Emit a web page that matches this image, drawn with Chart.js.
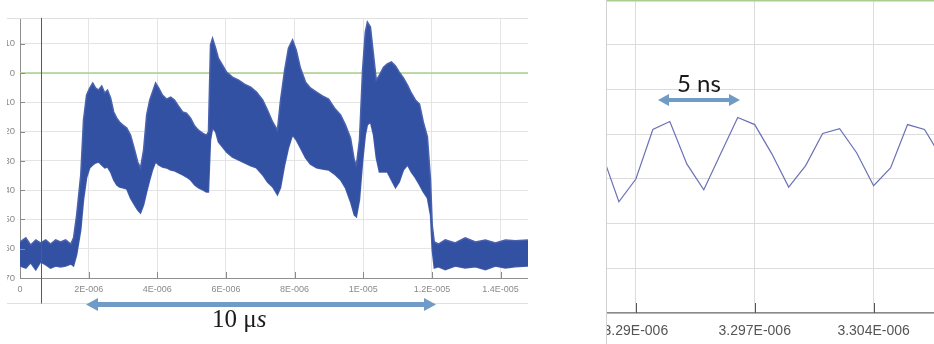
<!DOCTYPE html>
<html>
<head>
<meta charset="utf-8">
<script src="https://cdn.jsdelivr.net/npm/chart.js"></script>
<style>
body{margin:0;width:934px;height:344px;background:#fff;position:relative;overflow:hidden;}
#leftBox{position:absolute;left:7px;top:18px;width:521px;height:287px;overflow:hidden;}
#leftCanvas{position:absolute;left:-27px;top:0;}
#rightEdge{position:absolute;left:606px;top:0;width:1px;height:344px;background:#d2d2d2;}
#rightBox{position:absolute;left:607px;top:0;width:327px;height:344px;overflow:hidden;}
#rightCanvas{position:absolute;left:-47px;top:0;}
#arrows{position:absolute;left:0;top:0;}
.note{position:absolute;white-space:nowrap;color:#1a1a1a;}
#usLabel{left:212px;top:306px;font:25px/25px "Liberation Serif","DejaVu Serif",serif;}
#nsLabel{left:677px;top:71px;font:24px/24px Lato,"Open Sans",sans-serif;}
</style>
</head>
<body>

<div id="leftBox"><canvas id="leftCanvas" width="548" height="287"></canvas></div>
<div id="rightEdge"></div>
<div id="rightBox"><canvas id="rightCanvas" width="390" height="344"></canvas></div>

<svg id="arrows" width="934" height="344">
<g fill="#6f9bc6">
<rect x="96" y="302" width="330" height="5"/>
<polygon points="86,304.5 98,298 98,311"/>
<polygon points="436,304.5 424,298 424,311"/>
<rect x="666" y="98" width="66" height="4"/>
<polygon points="658,100 669,94 669,106"/>
<polygon points="740,100 729,94 729,106"/>
</g>
</svg>
<div class="note" id="usLabel">10 μ<i>s</i></div>
<div class="note" id="nsLabel">5 ns</div>

<script>

// long capture, time in microseconds
const burstTime = [0, 0.17, 0.31, 0.46, 0.60, 0.75, 0.89, 1.04, 1.18, 1.33, 1.48, 1.56,
1.65, 1.77, 1.85, 1.94, 2.03, 2.12, 2.20, 2.29, 2.38, 2.47,
2.55, 2.64, 2.73, 2.82, 2.90, 2.99, 3.11, 3.22, 3.34, 3.43,
3.51, 3.60, 3.69, 3.78, 3.86, 3.95, 4.04, 4.15, 4.27, 4.39,
4.50, 4.62, 4.74, 4.85, 4.97, 5.09, 5.20, 5.32, 5.43, 5.49,
5.55, 5.61, 5.70, 5.78, 5.90, 6.02, 6.19, 6.37, 6.54, 6.72,
6.89, 7.07, 7.21, 7.36, 7.50, 7.59, 7.71, 7.82, 7.94, 8.05,
8.17, 8.32, 8.46, 8.64, 8.81, 8.99, 9.16, 9.34, 9.48, 9.63,
9.74, 9.80, 9.89, 9.98, 10.06, 10.12, 10.21, 10.30, 10.38, 10.47,
10.59, 10.70, 10.82, 10.94, 11.05, 11.17, 11.29, 11.40, 11.52, 11.64,
11.75, 11.87, 11.96, 12.01, 12.07, 12.19, 12.39, 12.68, 12.97, 13.27,
13.56, 13.85, 14.14, 14.43, 14.8];

// top edge of the noise band
const burstUpper = [-57.7, -56.3, -58.7, -57.0, -58.0, -57.0, -58.4, -57.0, -57.7, -57.0, -58.4, -56.3,
-48.5, -34.8, -16.0, -7.5, -5.1, -3.4, -5.1, -5.8, -4.4, -6.8,
-5.8, -8.5, -13.3, -15.4, -16.7, -17.7, -18.8, -21.2, -26.3, -30.4,
-32.4, -26.3, -14.3, -9.2, -6.5, -3.4, -5.1, -7.5, -8.9, -8.2,
-9.2, -11.3, -13.3, -13.7, -15.4, -18.1, -19.5, -20.5, -21.2, -20.1,
9.6, 11.9, 8.5, 5.1, 2.7, 0.3, -1.4, -2.4, -3.8, -4.8,
-6.5, -9.2, -12.6, -16.7, -19.5, -9.2, 1.0, 8.5, 11.3, 7.8,
1.7, -3.1, -5.1, -6.5, -7.8, -8.9, -11.9, -14.3, -17.7, -22.2,
-29.7, -31.4, -22.9, 1.0, 14.0, 17.4, 15.7, 6.1, -2.4, -0.7,
2.0, 3.1, 3.8, 2.4, 0.3, -1.7, -4.1, -6.8, -9.2, -10.6,
-16.7, -21.8, -36.5, -51.9, -57.7, -58.4, -57.0, -58.0, -56.3, -57.7,
-57.0, -58.0, -57.0, -57.3, -57.0];

// bottom edge of the noise band
const burstLower = [-65.9, -66.6, -64.8, -67.2, -64.5, -65.5, -66.6, -65.9, -66.2, -65.9, -65.2, -65.9,
-62.1, -53.6, -43.3, -35.8, -32.4, -31.4, -30.7, -30.4, -31.4, -32.4,
-32.1, -33.8, -36.5, -38.2, -38.9, -39.2, -39.6, -42.7, -45.1, -46.8,
-47.8, -45.1, -40.6, -36.5, -33.1, -30.4, -31.4, -32.1, -32.4, -33.1,
-33.4, -34.1, -34.8, -35.5, -36.5, -38.2, -39.2, -39.9, -40.6, -40.6,
-22.9, -18.8, -20.1, -23.5, -25.3, -27.0, -28.7, -29.7, -30.7, -31.7,
-32.4, -34.8, -37.2, -38.9, -41.6, -39.2, -31.4, -25.6, -21.2, -22.9,
-25.6, -29.0, -31.1, -32.4, -32.8, -33.1, -34.5, -36.5, -39.2, -44.0,
-48.5, -49.1, -43.3, -30.4, -21.2, -17.7, -16.7, -21.2, -29.0, -33.8,
-33.8, -33.8, -36.5, -39.2, -37.2, -33.1, -31.4, -33.8, -35.8, -38.2,
-40.6, -42.7, -48.5, -60.4, -66.6, -66.2, -67.2, -65.9, -66.6, -66.2,
-67.2, -65.9, -66.6, -66.2, -65.9];

const longTickValues = [0, 2, 4, 6, 8, 10, 12, 14];
const longTickLabels = ["0", "2E-006", "4E-006", "6E-006", "8E-006", "1E-005", "1.2E-005", "1.4E-005"];
const cursorTime = 0.6;
const thresholdLevel = 0;

// zoomed capture, time in nanoseconds
const waveTime = [3288, 3289, 3290, 3291, 3292, 3293, 3294, 3295, 3296, 3297, 3298,
3299, 3300, 3301, 3302, 3303, 3304, 3305, 3306, 3307, 3308];
const waveLevel = [-34.3, -45.1, -40.0, -28.9, -27.1, -36.6, -42.4, -34.3, -26.2, -27.8, -34.3,
-41.8, -37.0, -29.8, -28.7, -34.1, -41.5, -37.5, -27.8, -28.9, -35.2];

const zoomTickValues = [3290, 3297, 3304];
const zoomTickLabels = ["3.29E-006", "3.297E-006", "3.304E-006"];


Chart.defaults.font.family = "'Liberation Sans', Arial, sans-serif";
Chart.defaults.animation = false;

function points(xs, ys){
return xs.map((x, i) => ({x: x, y: ys[i]}));
}

function tickLabel(values, labels){
return function(v){
const i = values.indexOf(Math.round(v * 1000) / 1000);
return i >= 0 ? labels[i] : "";
};
}

const insideTicks = {
id: "insideTicks",
afterDraw(chart, args, opts){
const ctx = chart.ctx;
const area = chart.chartArea;
const xs = chart.scales.x;
ctx.save();
ctx.strokeStyle = opts.color;
ctx.lineWidth = 1;
ctx.beginPath();
xs.ticks.forEach(t => {
const px = Math.round(xs.getPixelForValue(t.value)) + 0.5;
ctx.moveTo(px, area.bottom);
ctx.lineTo(px, area.bottom - opts.xLen);
});
if(opts.yLen){
const ys = chart.scales.y;
ys.ticks.forEach(t => {
const py = Math.round(ys.getPixelForValue(t.value)) + 0.5;
ctx.moveTo(area.left, py);
ctx.lineTo(area.left + opts.yLen, py);
});
}
ctx.stroke();
ctx.restore();
}
};

const leftFrame = {
id: "leftFrame",
afterDraw(chart){
const ctx = chart.ctx;
const area = chart.chartArea;
ctx.save();
ctx.strokeStyle = "#e0e0e0";
ctx.lineWidth = 1;
ctx.beginPath();
ctx.moveTo(0, area.top + 0.5);
ctx.lineTo(area.right, area.top + 0.5);
ctx.moveTo(0, chart.height - 1.5);
ctx.lineTo(area.right, chart.height - 1.5);
ctx.stroke();
const cx = Math.round(chart.scales.x.getPixelForValue(cursorTime)) + 0.5;
ctx.strokeStyle = "#5a5a5a";
ctx.beginPath();
ctx.moveTo(cx, area.top);
ctx.lineTo(cx, chart.height - 1.5);
ctx.stroke();
ctx.restore();
}
};

function noPad(s){
s.paddingLeft = 0;
s.paddingRight = 0;
s.paddingTop = 0;
s.paddingBottom = 0;
}


new Chart(document.getElementById("leftCanvas"), {
type: "line",
data: {
datasets: [
{
data: points(burstTime, burstUpper),
borderColor: "#4a62ae",
borderWidth: 1.5,
backgroundColor: "#3351a3",
fill: "+1",
pointRadius: 0,
tension: 0
},
{
data: points(burstTime, burstLower),
borderColor: "#4a62ae",
borderWidth: 1.5,
fill: false,
pointRadius: 0,
tension: 0
},
{
data: [{x: 0, y: thresholdLevel}, {x: 14.8, y: thresholdLevel}],
borderColor: "#a8d08d",
borderWidth: 1.5,
fill: false,
pointRadius: 0
}
]
},
options: {
responsive: false,
layout: {padding: 0},
plugins: {
legend: {display: false},
tooltip: {enabled: false},
insideTicks: {color: "#8a8a8a", xLen: 6, yLen: 5}
},
scales: {
x: {
type: "linear",
min: 0,
max: 14.8,
afterFit: s => { s.height = 27; noPad(s); },
ticks: {
stepSize: 2,
includeBounds: false,
autoSkip: false,
maxRotation: 0,
padding: 6,
color: "#8a8a8a",
font: {size: 9},
callback: tickLabel(longTickValues, longTickLabels)
},
grid: {color: "#e4e4e4", drawTicks: false},
border: {color: "#8f8f8f"}
},
y: {
min: -70,
max: 18.8,
afterFit: s => { s.width = 40; noPad(s); },
ticks: {
stepSize: 10,
includeBounds: false,
padding: 5,
color: "#8a8a8a",
font: {size: 9.5}
},
grid: {color: "#e4e4e4", drawTicks: false},
border: {color: "#8f8f8f"}
}
}
},
plugins: [insideTicks, leftFrame]
});


new Chart(document.getElementById("rightCanvas"), {
type: "line",
data: {
datasets: [
{
data: points(waveTime, waveLevel),
borderColor: "#6a72b4",
borderWidth: 1.2,
fill: false,
pointRadius: 0,
tension: 0
},
{
data: [{x: 3288.3, y: thresholdLevel}, {x: 3308.5, y: thresholdLevel}],
borderColor: "#a8d08d",
borderWidth: 2,
fill: false,
pointRadius: 0
}
]
},
options: {
responsive: false,
layout: {padding: 0},
plugins: {
legend: {display: false},
tooltip: {enabled: false},
insideTicks: {color: "#555", xLen: 10, yLen: 0}
},
scales: {
x: {
type: "linear",
min: 3288.3,
max: 3308.5,
afterFit: s => { s.height = 31; noPad(s); },
ticks: {
stepSize: 7,
includeBounds: false,
autoSkip: false,
maxRotation: 0,
padding: 10,
color: "#555",
font: {size: 14},
callback: tickLabel(zoomTickValues, zoomTickLabels)
},
grid: {color: "#dcdcdc", drawTicks: false},
border: {color: "#8a8a8a", width: 1.5}
},
y: {
min: -70,
max: 0.1,
afterFit: s => { s.width = 47; noPad(s); },
ticks: {display: false, stepSize: 10, includeBounds: false},
grid: {color: "#dcdcdc", drawTicks: false},
border: {display: false}
}
}
},
plugins: [insideTicks]
});

</script>
</body>
</html>
